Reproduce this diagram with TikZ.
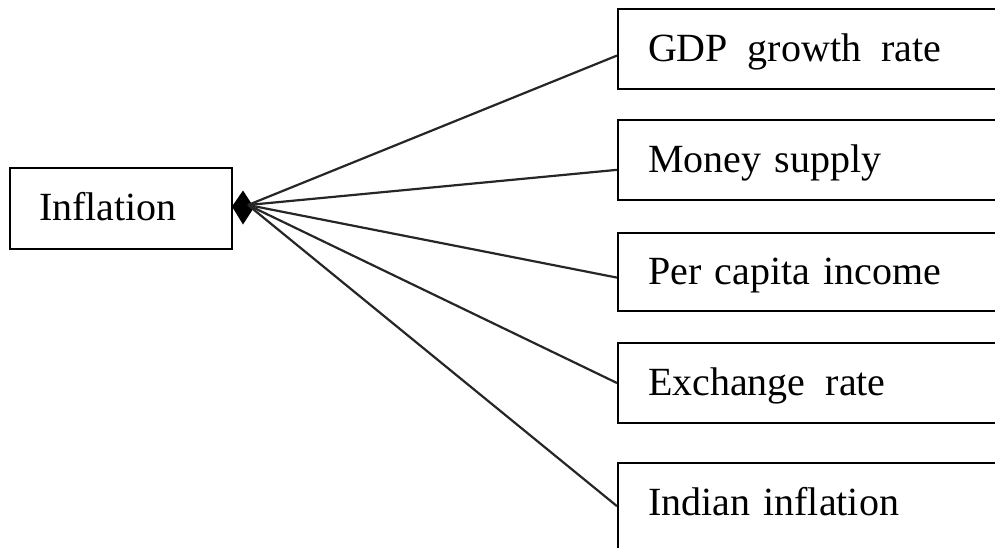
\documentclass[tikz,border=0pt]{standalone}
\usepackage{fontspec}
\setmainfont{Liberation Serif}
\usetikzlibrary{calc}
\begin{document}
\begin{tikzpicture}[x=1pt,y=-1pt,
  box/.style={draw, line width=2pt, anchor=north west, inner xsep=30pt, inner ysep=0pt,
    minimum height=80pt, text width=350pt, align=left,
    text height=30pt, text depth=6pt, font=\fontsize{40}{48}\selectfont},
  link/.style={line width=2.2pt, draw=black!85}]
\useasboundingbox (0,0) rectangle (995,547);
\clip (0,0) rectangle (995,547);
\node[box, text width=164pt, inner xsep=29pt, minimum height=81pt] (infl) at (9,167) {Inflation};
\node[box] (gdp) at (617,8) {GDP\, growth\, rate};
\node[box] (money) at (617,119) {Money supply};
\node[box, minimum height=78pt] (pci) at (617,232) {Per capita income};
\node[box] (exch) at (617,342) {Exchange\, rate};
\node[box, minimum height=90pt, text depth=16pt] (ind) at (617,462) {Indian inflation};
\coordinate (hub) at (248,205);
\fill (infl.east) ++(-1,-2) -- ++(11,-16) -- ++(11,17) -- ++(-11,17) -- cycle;
\draw[link] (hub) -- ($(gdp.north west)!0.58!(gdp.south west)$);
\draw[link] (hub) -- ($(money.north west)!0.62!(money.south west)$);
\draw[link] (hub) -- ($(pci.north west)!0.57!(pci.south west)$);
\draw[link] (hub) -- ($(exch.north west)!0.5!(exch.south west)$);
\draw[link] (hub) -- ($(ind.north west)!0.48!(ind.south west)$);
\end{tikzpicture}
\end{document}
